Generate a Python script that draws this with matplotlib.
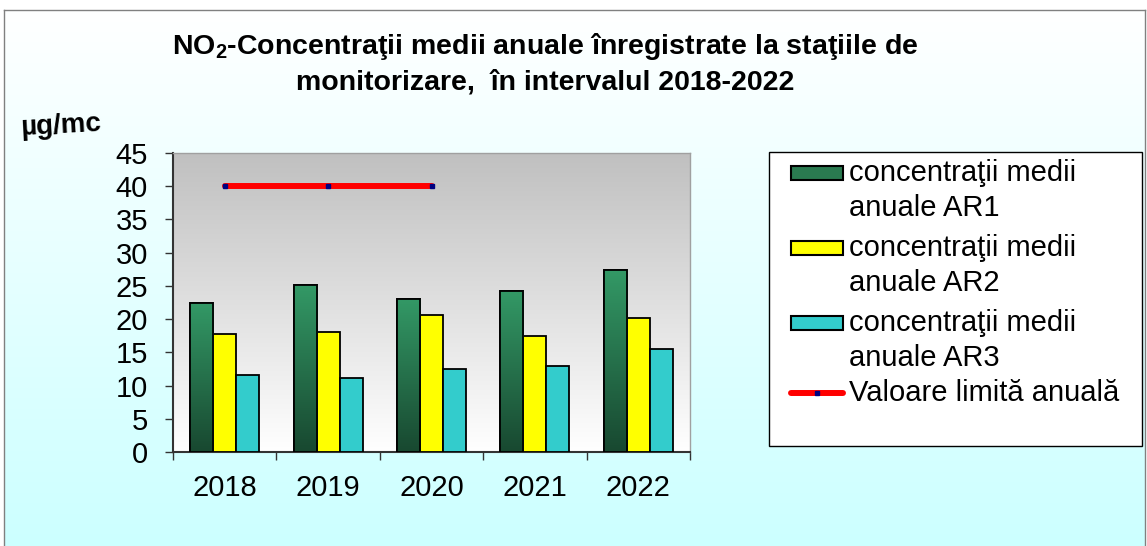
import numpy as np
import matplotlib
matplotlib.use("Agg")
import matplotlib.pyplot as plt
from matplotlib.patches import Rectangle
from matplotlib.lines import Line2D
from matplotlib.colors import LinearSegmentedColormap

plt.rcParams['font.family'] = ['Liberation Sans', 'DejaVu Sans']
plt.rcParams['mathtext.fontset'] = 'custom'
plt.rcParams['mathtext.rm'] = 'Liberation Sans'
plt.rcParams['mathtext.bf'] = 'Liberation Sans:bold'

years = ["2018", "2019", "2020", "2021", "2022"]
ar1 = [22.5, 25.2, 23.1, 24.3, 27.4]
ar2 = [17.7, 18.1, 20.6, 17.5, 20.1]
ar3 = [11.6, 11.1, 12.5, 12.9, 15.5]
limit_years = ["2018", "2019", "2020"]
limit_vals = [40, 40, 40]
labels = ["concentraţii medii\nanuale AR1", "concentraţii medii\nanuale AR2",
          "concentraţii medii\nanuale AR3", "Valoare limită anuală"]

W, H = 1147, 546
fig = plt.figure(figsize=(W / 100, H / 100), dpi=100)
fig.patch.set_facecolor("white")


def fx(x):
    return x / W


def fy(y):
    return 1 - y / H


# figure background gradient (white -> light cyan)
bg = fig.add_axes([fx(4), 0, 1141 / W, 536 / H], zorder=-5)
grad = np.linspace(0, 1, 256).reshape(-1, 1)
cm_bg = LinearSegmentedColormap.from_list("bg", ["#FFFFFF", "#CCFFFF"])
bg.imshow(grad, aspect="auto", cmap=cm_bg, extent=[0, 1, 0, 1], origin="upper")
bg.set_xticks([]); bg.set_yticks([])
for s in bg.spines.values():
    s.set_color("#808080"); s.set_linewidth(1)
bg.spines["bottom"].set_visible(False)

# main axes
ax = fig.add_axes([fx(173), fy(452), (690 - 173) / W, (452 - 153) / H])
ax.set_xlim(0, 5)
ax.set_ylim(0, 45)
cm_plot = LinearSegmentedColormap.from_list("pl", ["#FFFFFF", "#C0C0C0"])
ax.imshow(grad[::-1], aspect="auto", cmap=cm_plot, extent=[0, 5, 0, 45], origin="upper", zorder=0)

x = np.arange(len(years)) + 0.5
bw = 0.223
elw = 1.3
cm_green = LinearSegmentedColormap.from_list("gr", ["#184830", "#339966"])
bars1 = ax.bar(x - bw, ar1, bw, color="#2e8b5a", edgecolor="black", linewidth=elw, zorder=3)
for b in bars1:
    xx = b.get_x()
    im = ax.imshow(grad, aspect="auto", cmap=cm_green,
                   extent=[xx, xx + b.get_width(), 0, b.get_height()], origin="lower", zorder=3.1)
    im.set_clip_path(b)
    ax.add_patch(Rectangle((xx, 0), b.get_width(), b.get_height(), fill=False,
                           edgecolor="black", linewidth=elw, zorder=3.2))
ax.bar(x, ar2, bw, color="#FFFF00", edgecolor="black", linewidth=elw, zorder=3)
ax.bar(x + bw, ar3, bw, color="#33CCCC", edgecolor="black", linewidth=elw, zorder=3)

lx = [years.index(y) + 0.5 for y in limit_years]
ax.plot(lx, limit_vals, color="red", linewidth=4.3, solid_capstyle="round", zorder=4)
ax.plot(lx, limit_vals, linestyle="none", marker="s", markersize=2.5, color="#000080", zorder=5)

ax.set_yticks(np.arange(0, 46, 5))
ax.set_xticks(x)
ax.set_xticklabels(years)
ax.set_xticks(np.arange(0, 6), minor=True)
ax.tick_params(axis="x", which="major", length=0, pad=16, labelsize=21)
ax.tick_params(axis="x", which="minor", length=6, width=1, direction="out", color="#333333")
ax.tick_params(axis="y", length=6, width=1, direction="out", labelsize=21, pad=12, color="#333333")
for s in ["top", "right"]:
    ax.spines[s].set_color("#A0A0A0"); ax.spines[s].set_linewidth(1)
for s in ["left", "bottom"]:
    ax.spines[s].set_color("#333333"); ax.spines[s].set_linewidth(1.5)

# title
fig.text(fx(545), fy(47), r"$\mathbf{NO_2}$-Concentraţii medii anuale înregistrate la staţiile de",
         ha="center", va="center", fontsize=20.5, fontweight="bold")
fig.text(fx(545), fy(82), "monitorizare,  în intervalul 2018-2022",
         ha="center", va="center", fontsize=20.5, fontweight="bold")
fig.text(fx(20), fy(128), "µg/mc", ha="left", va="center", fontsize=20, fontweight="bold",
         rotation=3, rotation_mode="anchor")

# legend (drawn manually inside a white box)
fig.patches.append(Rectangle((fx(769), fy(446)), (1142 - 769) / W, (446 - 152) / H,
                             transform=fig.transFigure, facecolor="white", edgecolor="black",
                             linewidth=1, zorder=1))
swatch = ["#2a7a50", "#FFFF00", "#33CCCC"]
entry_y = [173, 248, 323, 393]
for i, lab in enumerate(labels):
    cy = entry_y[i]
    if i < 3:
        fig.patches.append(Rectangle((fx(791), fy(cy + 7)), 52 / W, 14 / H,
                                     transform=fig.transFigure, facecolor=swatch[i],
                                     edgecolor="black", linewidth=1.5, zorder=2))
    else:
        fig.lines.append(Line2D([fx(791), fx(843)], [fy(cy), fy(cy)], transform=fig.transFigure,
                                color="red", linewidth=4.3, solid_capstyle="round", zorder=2))
        fig.lines.append(Line2D([fx(817)], [fy(cy)], transform=fig.transFigure, linestyle="none",
                                marker="s", markersize=2.5, color="#000080", zorder=3))
    for j, line in enumerate(lab.split("\n")):
        fig.text(fx(849), fy(cy + 35 * j), line, ha="left", va="center", fontsize=21, zorder=3)

fig.savefig("out.png", dpi=100)
